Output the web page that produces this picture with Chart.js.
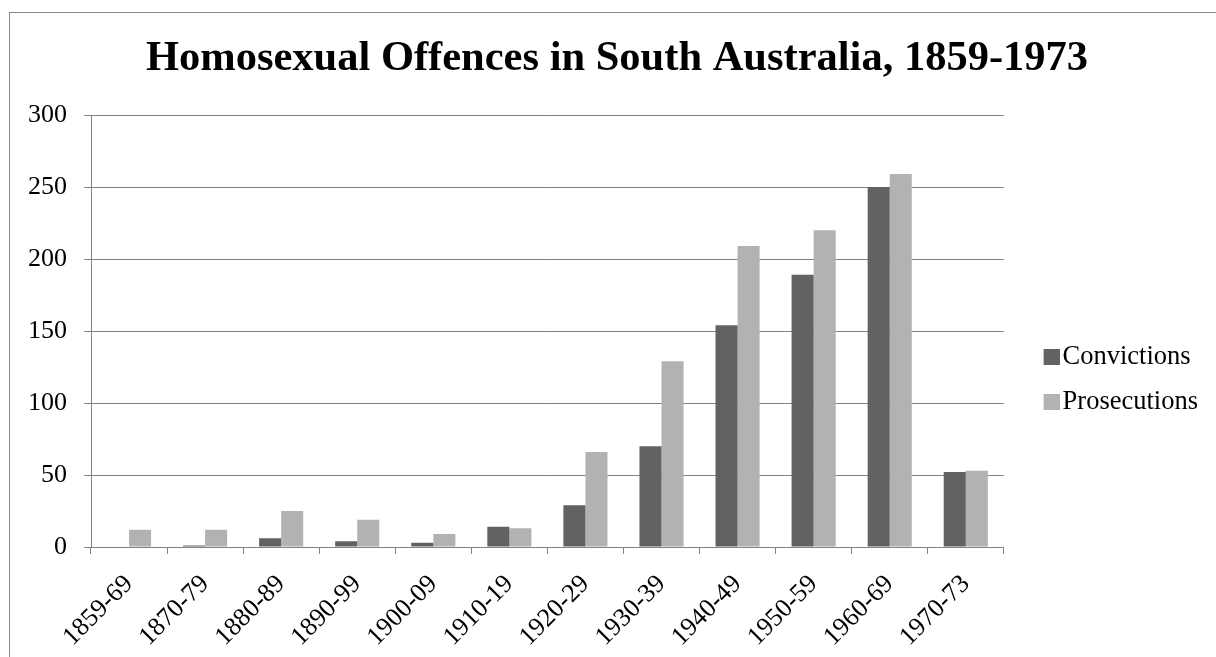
<!DOCTYPE html>
<html><head><meta charset="utf-8">
<script src="https://cdn.jsdelivr.net/npm/chart.js@4/dist/chart.umd.min.js"></script>
<style>
html,body{margin:0;padding:0;background:#fff;overflow:hidden}
#wrap{position:relative;width:1216px;height:657px}
#frame{position:absolute;left:9px;top:12px;width:1400px;height:900px;border:1px solid #8a8a8a;box-sizing:border-box}
canvas{position:absolute;left:0;top:0}
</style></head><body>
<div id="wrap"><div id="frame"></div><canvas id="c" width="1216" height="657"></canvas></div>
<script>
const categories = ["1859-69","1870-79","1880-89","1890-99","1900-09","1910-19","1920-29","1930-39","1940-49","1950-59","1960-69","1970-73"];
const convictions = [0,1,6,4,3,14,29,70,154,189,250,52];
const prosecutions = [12,12,25,19,9,13,66,129,209,220,259,53];
const seriesNames = ["Convictions","Prosecutions"];
const seriesColors = ["#626262","#b2b2b2"];
const yMin = 0, yMax = 300, yStep = 50;
const titleText = "Homosexual Offences in South Australia, 1859-1973";

const FONT = "'Liberation Serif','Times New Roman',serif";
const GRID = '#828282';

function makeSwatch(color){
  const c = document.createElement('canvas');
  c.width = 47; c.height = 16;
  const g = c.getContext('2d');
  g.fillStyle = color;
  g.fillRect(31,0,16,16);
  return c;
}
const swatches = seriesColors.map(makeSwatch);

new Chart(document.getElementById('c'), {
  type: 'bar',
  data: {
    labels: categories,
    datasets: [
      {label: seriesNames[0], data: convictions, backgroundColor: seriesColors[0], borderWidth: 0},
      {label: seriesNames[1], data: prosecutions, backgroundColor: seriesColors[1], borderWidth: 0}
    ]
  },
  options: {
    responsive: false,
    animation: false,
    devicePixelRatio: 1,
    color: '#000',
    categoryPercentage: 0.58,
    barPercentage: 1.0,
    layout: {padding: {left: 26, right: 8, top: 0, bottom: 0}},
    plugins: {
      tooltip: {enabled: false},
      title: {
        display: true, text: titleText, color: '#000',
        font: {family: FONT, size: 42.5, weight: 'bold'},
        padding: {top: 34, bottom: 30}
      },
      legend: {
        position: 'right',
        title: {display: true, text: ' ', font: {size: 2}, padding: {top: 100, bottom: 0}},
        labels: {
          color: '#000',
          font: {family: FONT, size: 26.5},
          usePointStyle: true,
          boxWidth: 29, boxHeight: 16,
          padding: 19,
          generateLabels: (chart) => chart.data.datasets.map((ds, i) => ({
            text: ds.label, fillStyle: ds.backgroundColor, strokeStyle: ds.backgroundColor,
            fontColor: '#000',
            lineWidth: 0, pointStyle: swatches[i], datasetIndex: i, hidden: false
          }))
        }
      }
    },
    scales: {
      x: {
        offset: true,
        afterFit: (s) => { s.height = 110; },
        grid: {offset: true, drawOnChartArea: false, drawTicks: true, tickLength: 7, color: GRID, lineWidth: 1},
        border: {color: GRID, width: 1},
        ticks: {color: '#000', font: {family: FONT, size: 26}, minRotation: 45, maxRotation: 45, padding: 15, autoSkip: false}
      },
      y: {
        min: yMin, max: yMax,
        afterFit: (s) => { s.width = 65; },
        grid: {color: GRID, lineWidth: 1, tickLength: 7, drawTicks: true},
        border: {color: GRID, width: 1},
        ticks: {stepSize: yStep, color: '#000', font: {family: FONT, size: 26}, padding: 17}
      }
    }
  }
});
</script>
</body></html>
